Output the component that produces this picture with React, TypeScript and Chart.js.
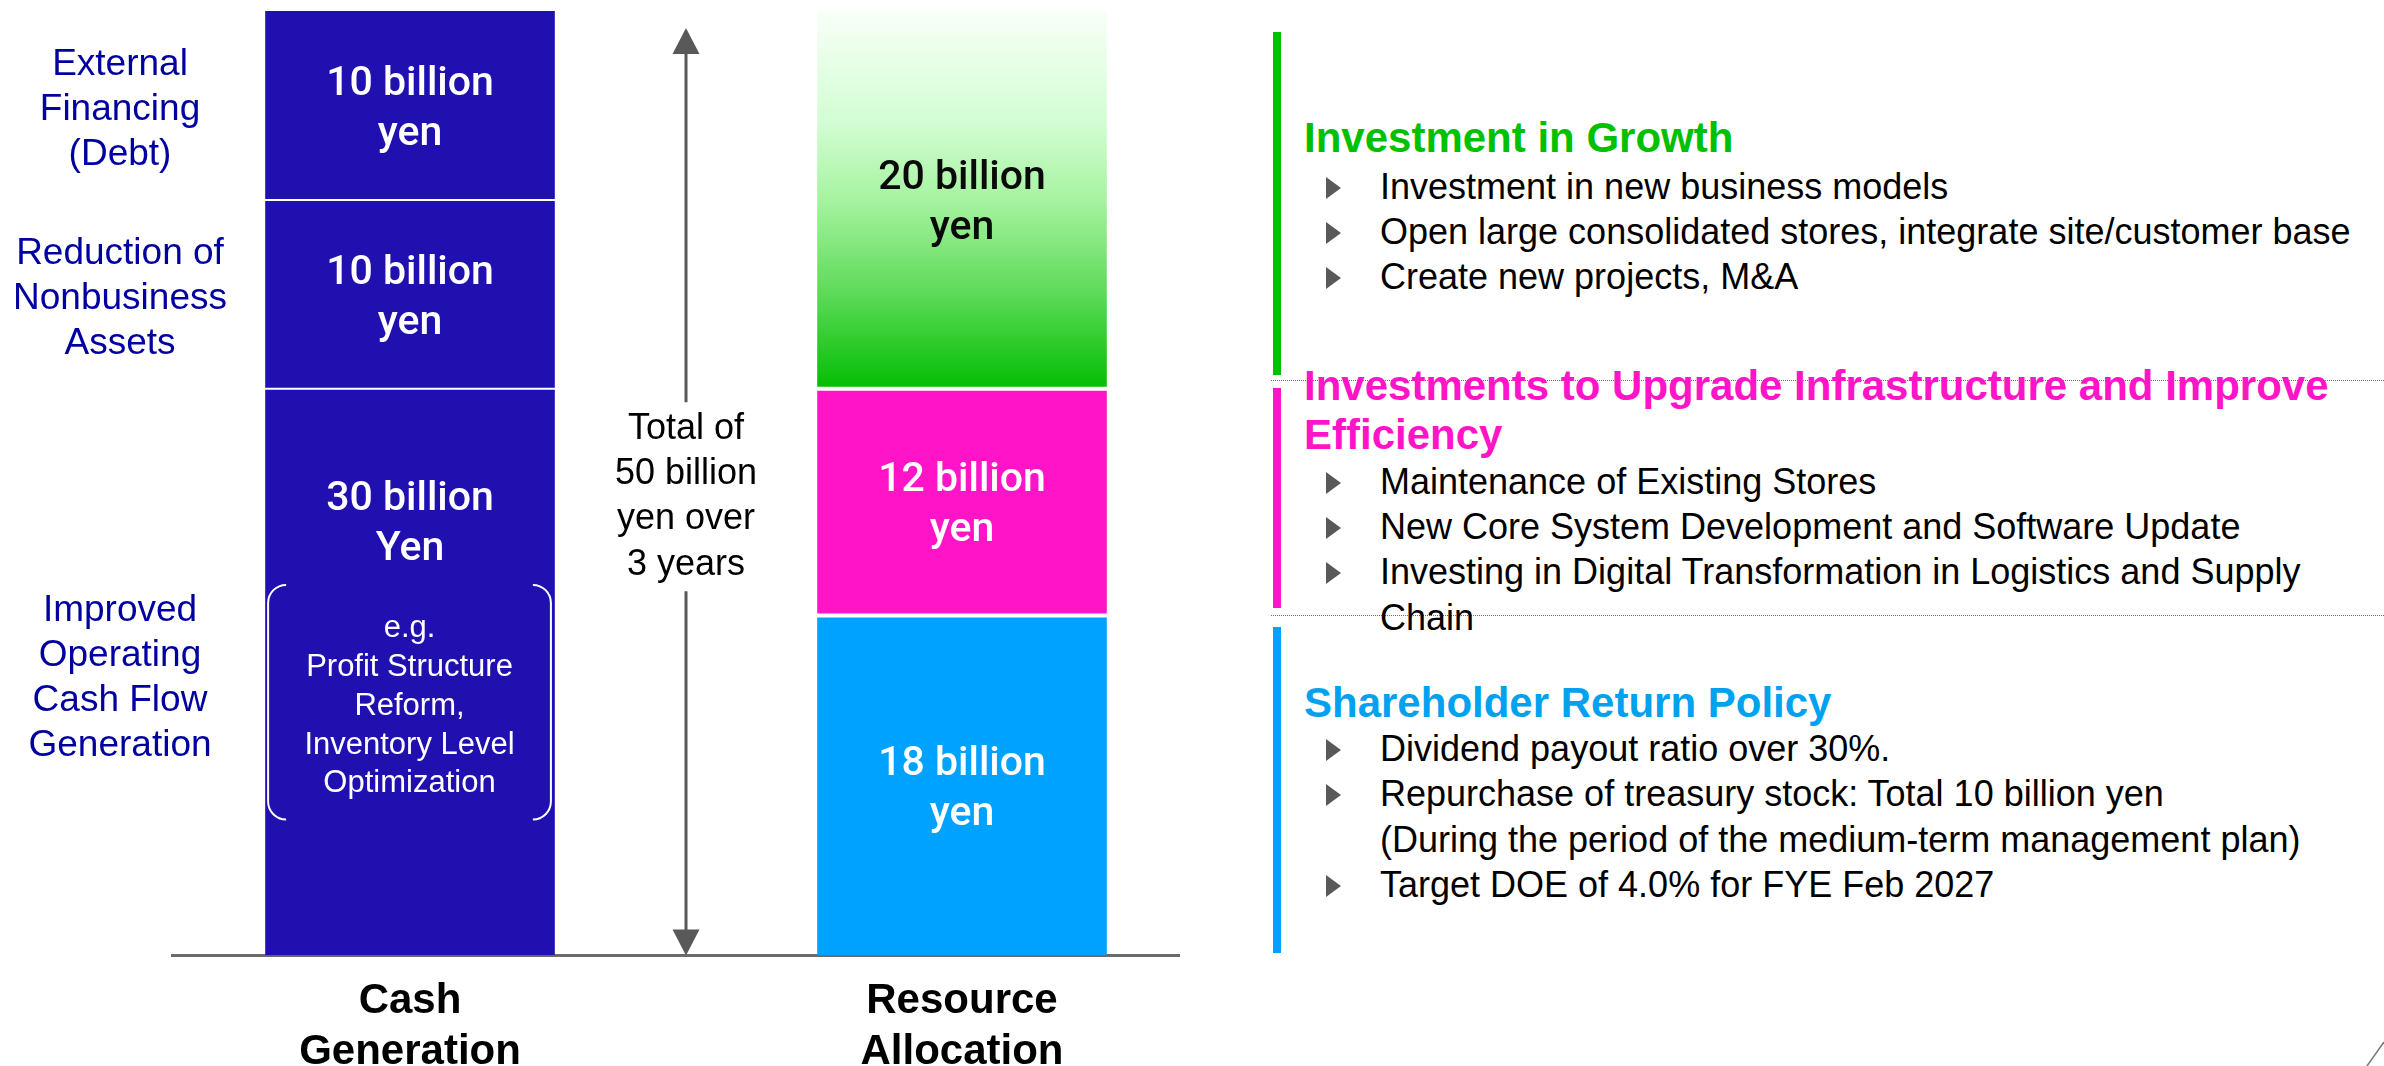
import React, { useEffect, useRef } from "react";
import { Chart, registerables } from "chart.js";

Chart.register(...registerables);

// ---------- data ----------
const categories = [["Cash", "Generation"], ["Resource", "Allocation"]];
// stacked bottom -> top (billion yen)
const cashGeneration = [30, 10, 10];
const resourceAllocation = [18, 12, 20];
const yMax = 50;

const cashSources = [
  ["Improved", "Operating", "Cash Flow", "Generation"],
  ["Reduction of", "Nonbusiness", "Assets"],
  ["External", "Financing", "(Debt)"],
];
const cashLabels = [["30 billion", "Yen"], ["10 billion", "yen"], ["10 billion", "yen"]];
const allocationLabels = [["18 billion", "yen"], ["12 billion", "yen"], ["20 billion", "yen"]];
const exampleLines = ["e.g.", "Profit Structure", "Reform,", "Inventory Level", "Optimization"];
const totalLines = ["Total of", "50 billion", "yen over", "3 years"];

const growthItems = [
  "Investment in new business models",
  "Open large consolidated stores, integrate site/customer base",
  "Create new projects, M&A",
];
const infraItems = [
  "Maintenance of Existing Stores",
  "New Core System Development and Software Update",
  "Investing in Digital Transformation in Logistics and Supply",
];
const returnItems = [
  "Dividend payout ratio over 30%.",
  "Repurchase of treasury stock: Total 10 billion yen",
  "Target DOE of 4.0% for FYE Feb 2027",
];

// ---------- styles ----------
const CASH_COLOR = "#2010B0";
const ALLOC_COLORS = ["#00A2FF", "#FF14C8", "#02BE02"];
const GREEN = "#00C000";
const PINK = "#FF14C8";
const BLUE = "#00A2F0";
const SANS = "'Liberation Sans', Arial, sans-serif";
const BAR_FONT = "Roboto, 'Liberation Sans', sans-serif";
const TEXT_DY = 4;

function drawLines(ctx: CanvasRenderingContext2D, lines: string[], x: number, cy: number, lh: number) {
  const start = cy - ((lines.length - 1) * lh) / 2 + TEXT_DY;
  lines.forEach((t, i) => ctx.fillText(t, x, start + i * lh));
}

const overlayPlugin = {
  id: "overlay",
  beforeDatasetsDraw(chart: any) {
    const { ctx, scales } = chart;
    const y0 = scales.y.getPixelForValue(0);
    ctx.save();
    ctx.strokeStyle = "#6B6B6B";
    ctx.lineWidth = 3;
    ctx.beginPath();
    ctx.moveTo(scales.x.left + 37, y0);
    ctx.lineTo(scales.x.right - 58, y0);
    ctx.stroke();
    ctx.restore();
  },
  afterDatasetsDraw(chart: any) {
    const { ctx, scales } = chart;
    ctx.save();
    ctx.textAlign = "center";
    ctx.textBaseline = "middle";

    // segment labels
    for (let k = 0; k < 3; k++) {
      const meta = chart.getDatasetMeta(k);
      meta.data.forEach((el: any, j: number) => {
        const top = Math.min(el.y, el.base);
        const bot = Math.max(el.y, el.base);
        const h = bot - top;
        ctx.font = `500 41px ${BAR_FONT}`;
        if (j === 0) {
          ctx.fillStyle = "#FFFFFF";
          const cy = k === 0 ? top + h * 0.233 : top + h / 2;
          drawLines(ctx, cashLabels[k], el.x, cy, 50);
          // source label on the left
          ctx.fillStyle = "#0000A0";
          ctx.font = `37px ${SANS}`;
          drawLines(ctx, cashSources[k], el.x - 290, top + h / 2 + (k === 0 ? 2 : 0), 45);
          if (k === 0) {
            // bracket box
            const l = el.x - el.width / 2 + 3;
            const r = el.x + el.width / 2 - 4;
            const bt = top + h * 0.346;
            const bb = top + h * 0.76;
            const rad = 18;
            ctx.strokeStyle = "#FFFFFF";
            ctx.lineWidth = 2;
            ctx.beginPath();
            ctx.moveTo(l + rad, bt);
            ctx.arcTo(l, bt, l, bt + rad, rad);
            ctx.lineTo(l, bb - rad);
            ctx.arcTo(l, bb, l + rad, bb, rad);
            ctx.moveTo(r - rad, bt);
            ctx.arcTo(r, bt, r, bt + rad, rad);
            ctx.lineTo(r, bb - rad);
            ctx.arcTo(r, bb, r - rad, bb, rad);
            ctx.stroke();
            ctx.fillStyle = "#FFFFFF";
            ctx.font = `31px ${SANS}`;
            drawLines(ctx, exampleLines, (l + r) / 2, (bt + bb) / 2, 38.8);
          }
        } else {
          ctx.fillStyle = k === 2 ? "#0A0A0A" : "#FFFFFF";
          drawLines(ctx, allocationLabels[k], el.x, top + h / 2, 50);
        }
      });
    }

    // total arrow
    const e0 = chart.getDatasetMeta(0).data[0];
    const e1 = chart.getDatasetMeta(0).data[1];
    const ax = (e0.x + e1.x) / 2;
    const yb = scales.y.getPixelForValue(0);
    const yt = scales.y.getPixelForValue(yMax) + 17;
    const tc = (yb + yt) / 2 + 1;
    const tlh = 45.3;
    const tTop = tc - (totalLines.length * tlh) / 2 + TEXT_DY;
    const tBot = tc + (totalLines.length * tlh) / 2 + TEXT_DY;
    ctx.strokeStyle = "#595959";
    ctx.fillStyle = "#595959";
    ctx.lineWidth = 3;
    ctx.beginPath();
    ctx.moveTo(ax, yt + 20);
    ctx.lineTo(ax, tTop - 4);
    ctx.moveTo(ax, tBot + 4);
    ctx.lineTo(ax, yb - 20);
    ctx.stroke();
    ctx.beginPath();
    ctx.moveTo(ax, yt);
    ctx.lineTo(ax - 13.5, yt + 26);
    ctx.lineTo(ax + 13.5, yt + 26);
    ctx.closePath();
    ctx.fill();
    ctx.beginPath();
    ctx.moveTo(ax, yb);
    ctx.lineTo(ax - 13.5, yb - 26);
    ctx.lineTo(ax + 13.5, yb - 26);
    ctx.closePath();
    ctx.fill();
    ctx.fillStyle = "#000000";
    ctx.font = `36px ${SANS}`;
    drawLines(ctx, totalLines, ax, tc, tlh);

    ctx.restore();
  },
};

function ChartPart() {
  const ref = useRef<HTMLCanvasElement>(null);
  useEffect(() => {
    if (!ref.current) return;
    const datasets = [0, 1, 2].map((k) => ({
      label: `s${k}`,
      data: [cashGeneration[k], resourceAllocation[k]],
      backgroundColor: (ctx: any) => {
        if (ctx.dataIndex === 0) return CASH_COLOR;
        if (k !== 2) return ALLOC_COLORS[k];
        const chart = ctx.chart;
        if (!chart.chartArea) return ALLOC_COLORS[2];
        const ys = chart.scales.y;
        const top = ys.getPixelForValue(resourceAllocation[0] + resourceAllocation[1] + resourceAllocation[2]);
        const bot = ys.getPixelForValue(resourceAllocation[0] + resourceAllocation[1]);
        const g = chart.ctx.createLinearGradient(0, top, 0, bot);
        g.addColorStop(0, "#F8FFF8");
        g.addColorStop(0.3, "#D2FDD2");
        g.addColorStop(0.5, "#A6F3A0");
        g.addColorStop(0.75, "#5CDA58");
        g.addColorStop(1, "#02BE02");
        return g;
      },
      borderColor: "#FFFFFF",
      borderSkipped: false,
      borderWidth: (ctx: any) => {
        const w = ctx.dataIndex === 0 ? 1 : 2;
        return { top: k === 2 ? 0 : w, bottom: k === 0 ? 0 : w, left: 0, right: 0 };
      },
      categoryPercentage: 1,
      barPercentage: 0.525,
    }));
    const chart = new Chart(ref.current, {
      type: "bar",
      data: { labels: categories as any, datasets },
      options: {
        responsive: false,
        animation: false,
        layout: { padding: { left: 134, right: 12, top: 11, bottom: 6 } },
        plugins: { legend: { display: false }, tooltip: { enabled: false } },
        scales: {
          x: {
            stacked: true,
            grid: { display: false, drawTicks: false },
            border: { display: false },
            ticks: {
              color: "#000000",
              padding: 20,
              font: { family: SANS, size: 42, weight: "bold", lineHeight: 1.22 },
            },
          },
          y: { stacked: true, display: false, min: 0, max: yMax },
        },
      },
      plugins: [overlayPlugin],
    });
    return () => chart.destroy();
  }, []);
  return <canvas ref={ref} width={1250} height={1104} style={{ display: "block" }} />;
}

function TextLine(props: { x: number; y: number; size: number; bold?: boolean; color: string; children: any }) {
  const lh = 48;
  return (
    <div
      style={{
        position: "absolute",
        left: props.x,
        top: props.y - lh / 2,
        height: lh,
        lineHeight: lh + "px",
        fontSize: props.size,
        fontWeight: props.bold ? 700 : 400,
        color: props.color,
        whiteSpace: "nowrap",
        fontFamily: SANS,
      }}
    >
      {props.children}
    </div>
  );
}

function Bullet({ y }: { y: number }) {
  return (
    <div
      style={{
        position: "absolute",
        left: 1326,
        top: y - 10,
        width: 0,
        height: 0,
        borderLeft: "15px solid #595959",
        borderTop: "11px solid transparent",
        borderBottom: "11px solid transparent",
      }}
    />
  );
}

export default function App() {
  const TX = 1380;
  const HX = 1304;
  return (
    <div
      style={{
        position: "absolute",
        left: 0,
        top: 0,
        width: 2384,
        height: 1066,
        overflow: "hidden",
        background: "#FFFFFF",
      }}
    >
      <div style={{ position: "absolute", left: 0, top: 0 }}>
        <ChartPart />
      </div>

      {/* vertical colour markers */}
      <div style={{ position: "absolute", left: 1273, top: 32, width: 8, height: 343, background: GREEN }} />
      <div style={{ position: "absolute", left: 1273, top: 388, width: 8, height: 220, background: PINK }} />
      <div style={{ position: "absolute", left: 1273, top: 627, width: 8, height: 326, background: "#00A2FF" }} />
      {/* dotted separators */}
      <div style={{ position: "absolute", left: 1271, top: 380, width: 1113, height: 0, borderTop: "1px dotted #6E6E6E" }} />
      <div style={{ position: "absolute", left: 1271, top: 615, width: 1113, height: 0, borderTop: "1px dotted #6E6E6E" }} />

      {/* Growth */}
      <TextLine x={HX} y={138} size={42} bold color={GREEN}>Investment in Growth</TextLine>
      {growthItems.map((t, i) => (
        <React.Fragment key={"g" + i}>
          <Bullet y={187 + i * 45} />
          <TextLine x={TX} y={187 + i * 45} size={36} color="#000">{t}</TextLine>
        </React.Fragment>
      ))}

      {/* Infrastructure */}
      <TextLine x={HX} y={386} size={42} bold color={PINK}>Investments to Upgrade Infrastructure and Improve</TextLine>
      <TextLine x={HX} y={435} size={42} bold color={PINK}>Efficiency</TextLine>
      {infraItems.map((t, i) => (
        <React.Fragment key={"p" + i}>
          <Bullet y={482 + i * 45} />
          <TextLine x={TX} y={482 + i * 45} size={36} color="#000">{t}</TextLine>
        </React.Fragment>
      ))}
      <TextLine x={TX} y={618} size={36} color="#000">Chain</TextLine>

      {/* Shareholder return */}
      <TextLine x={HX} y={703} size={42} bold color={BLUE}>Shareholder Return Policy</TextLine>
      <Bullet y={749} />
      <TextLine x={TX} y={749} size={36} color="#000">{returnItems[0]}</TextLine>
      <Bullet y={794} />
      <TextLine x={TX} y={794} size={36} color="#000">{returnItems[1]}</TextLine>
      <TextLine x={TX} y={840} size={36} color="#000">(During the period of the medium-term management plan)</TextLine>
      <Bullet y={885} />
      <TextLine x={TX} y={885} size={36} color="#000">{returnItems[2]}</TextLine>

      <svg style={{ position: "absolute", left: 2360, top: 1036 }} width={24} height={30}>
        <line x1={7} y1={30} x2={24} y2={6} stroke="#777" strokeWidth={1.5} />
      </svg>
    </div>
  );
}
